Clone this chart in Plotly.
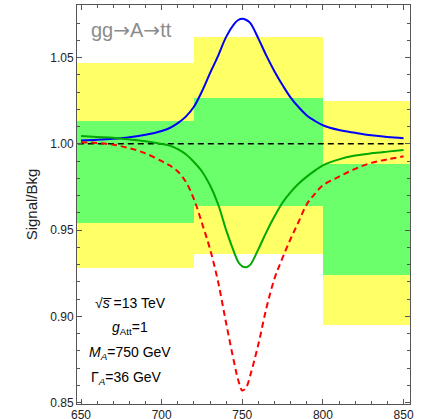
import plotly.graph_objects as go

# ---- data ----
bin_edges = [640, 720, 800, 880]
yellow_low = [0.9282, 0.9362, 0.8948]
yellow_high = [1.0466, 1.0619, 1.0247]
green_low = [0.9543, 0.9640, 0.9237]
green_high = [1.0133, 1.0266, 0.9883]

mass = [650, 660, 670, 680, 690, 700, 705, 710, 715, 720, 725, 730, 735, 740,
        745, 747.5, 750, 752.5, 755, 760, 765, 770, 775, 780, 785, 790, 795,
        800, 810, 820, 830, 840, 850]
blue_vals = [1.0020, 1.0024, 1.0030, 1.0039, 1.0053, 1.0075, 1.0092, 1.0120,
             1.0158, 1.0215, 1.0305, 1.0410, 1.0510, 1.0620, 1.0695, 1.0718,
             1.0725, 1.0718, 1.0700, 1.0610, 1.0510, 1.0420, 1.0340, 1.0268,
             1.0212, 1.0165, 1.0133, 1.0108, 1.0080, 1.0064, 1.0050, 1.0040,
             1.0033]
green_vals = [1.0045, 1.0040, 1.0035, 1.0025, 1.0015, 1.0000, 0.9990, 0.9970,
              0.9940, 0.9895, 0.9840, 0.9760, 0.9650, 0.9500, 0.9370, 0.9315,
              0.9290, 0.9285, 0.9300, 0.9390, 0.9490, 0.9580, 0.9660, 0.9720,
              0.9770, 0.9810, 0.9845, 0.9875, 0.9910, 0.9932, 0.9945, 0.9955,
              0.9964]
red_vals = [1.0010, 1.0005, 0.9995, 0.9975, 0.9945, 0.9900, 0.9875, 0.9840,
            0.9780, 0.9680, 0.9540, 0.9390, 0.9200, 0.8960, 0.8730, 0.8630,
            0.8570, 0.8590, 0.8660, 0.8840, 0.9050, 0.9220, 0.9340, 0.9450,
            0.9550, 0.9650, 0.9710, 0.9760, 0.9810, 0.9855, 0.9890, 0.9910,
            0.9928]
ref_x = [648, 850]
ref_y = [1.0, 1.0]

x_tick_vals = [650, 700, 750, 800, 850]
x_tick_text = ["650", "700", "750", "800", "850"]
y_tick_vals = [0.85, 0.90, 0.95, 1.00, 1.05]
y_tick_text = ["0.85", "0.90", "0.95", "1.00", "1.05"]

centers = [(a + b) / 2 for a, b in zip(bin_edges[:-1], bin_edges[1:])]
widths = [b - a for a, b in zip(bin_edges[:-1], bin_edges[1:])]

fig = go.Figure()
fig.add_trace(go.Bar(x=centers, y=[h - l for h, l in zip(yellow_high, yellow_low)],
                     base=yellow_low, width=widths, marker_color="#FFFF66",
                     marker_line_width=0, showlegend=False))
fig.add_trace(go.Bar(x=centers, y=[h - l for h, l in zip(green_high, green_low)],
                     base=green_low, width=widths, marker_color="#6CFF6C",
                     marker_line_width=0, showlegend=False))
fig.add_trace(go.Scatter(x=ref_x, y=ref_y, mode="lines",
                         line=dict(color="black", width=1.5, dash="6px,4px"),
                         showlegend=False))
fig.add_trace(go.Scatter(x=mass, y=blue_vals, mode="lines", line_shape="spline",
                         line=dict(color="#0000FF", width=2), showlegend=False))
fig.add_trace(go.Scatter(x=mass, y=green_vals, mode="lines", line_shape="spline",
                         line=dict(color="#00A800", width=2), showlegend=False))
fig.add_trace(go.Scatter(x=mass, y=red_vals, mode="lines", line_shape="spline",
                         line=dict(color="#FF0000", width=2, dash="6px,4px"),
                         showlegend=False))

font_family = "Liberation Sans, Arial, sans-serif"
axis_common = dict(showline=True, linecolor="#555555", linewidth=1, mirror="allticks",
                   ticks="inside", ticklen=5, tickcolor="#555555", showgrid=False,
                   zeroline=False, automargin=False,
                   tickfont=dict(size=12, color="#222222", family=font_family))
fig.update_xaxes(range=[647.5, 854], tickvals=x_tick_vals, ticktext=x_tick_text,
                 minor=dict(ticks="inside", dtick=10, tick0=650, ticklen=3, tickcolor="#555555"),
                 **axis_common)
fig.update_yaxes(range=[0.8492, 1.0805], tickvals=y_tick_vals, ticktext=y_tick_text,
                 minor=dict(ticks="inside", dtick=0.01, tick0=0.85, ticklen=3, tickcolor="#555555"),
                 title=dict(text="Signal/Bkg", font=dict(size=15, color="#222222", family=font_family),
                            standoff=8),
                 **axis_common)

arrow = "<span style='font-family:DejaVu Sans'>→</span>"
annots = [
    dict(text="gg" + arrow + "A" + arrow + "tt", x=0.035, y=0.937,
         font=dict(size=20, color="#8C8C8C"), xanchor="left", yanchor="middle"),
    dict(text="√<i>s̅</i> =13 TeV", x=0.16, y=0.253, font=dict(size=14, color="black"), xanchor="center", yanchor="middle"),
    dict(text="<i>g</i><sub>Att</sub>=1", x=0.16, y=0.191, font=dict(size=14, color="black"), xanchor="center", yanchor="middle"),
    dict(text="<i>M</i><sub><i>A</i></sub>=750 GeV", x=0.16, y=0.128, font=dict(size=14, color="black"), xanchor="center", yanchor="middle"),
    dict(text="Γ<sub><i>A</i></sub>=36 GeV", x=0.15, y=0.066, font=dict(size=14, color="black"), xanchor="center", yanchor="middle"),
]
for a in annots:
    a.update(xref="paper", yref="paper", showarrow=False)
    a["font"]["family"] = font_family
fig.update_layout(annotations=annots)

fig.update_layout(width=421, height=419, margin=dict(l=77, r=11, t=5, b=15),
                  plot_bgcolor="white", paper_bgcolor="white", barmode="overlay",
                  bargap=0, font=dict(family=font_family), hovermode=False)
fig.write_html("out.html", config={"displayModeBar": False},
               post_script="document.body.style.margin='0';document.body.style.overflow='hidden';")
